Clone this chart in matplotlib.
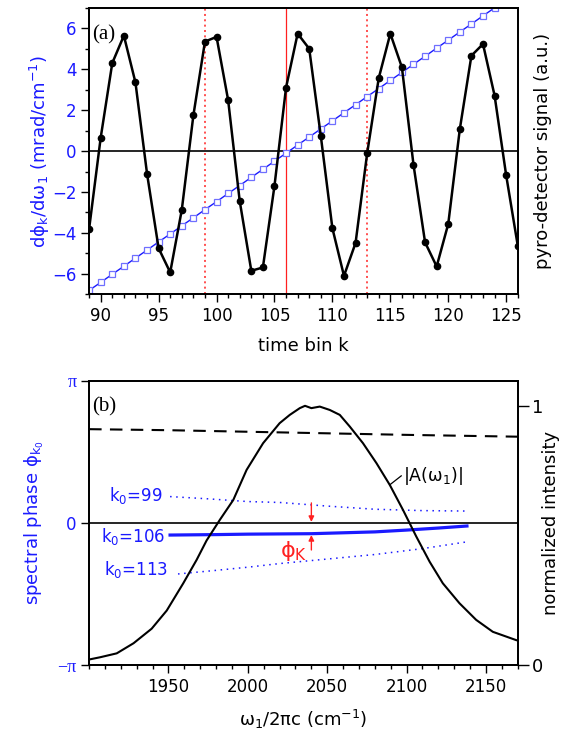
import matplotlib
matplotlib.use("Agg")
import matplotlib.pyplot as plt
import numpy as np

plt.rcParams['font.family'] = ['DejaVu Sans']
plt.rcParams['mathtext.default'] = 'regular'

BLUE = '#1a1aff'
LBLUE = '#6f6fff'
RED = '#ff2020'

# ---- panel (a) data ----
k_bins = list(range(89, 127))
dphi = [-6.81, -6.42, -6.02, -5.63, -5.23, -4.84, -4.44, -4.05, -3.65, -3.26,
        -2.86, -2.47, -2.07, -1.68, -1.28, -0.89, -0.49, -0.10, 0.30, 0.69,
        1.09, 1.48, 1.88, 2.27, 2.67, 3.06, 3.46, 3.85, 4.25, 4.64,
        5.04, 5.43, 5.83, 6.22, 6.62, 7.01, 7.41, 7.80]
pyro = [-3.8, 0.66, 4.31, 5.65, 3.36, -1.1, -4.75, -5.93, -2.87, 1.75,
        5.36, 5.59, 2.5, -2.44, -5.85, -5.69, -1.70, 3.11, 5.75, 5.01,
        0.74, -3.77, -6.1, -4.49, -0.11, 3.57, 5.75, 4.1, -0.66, -4.46,
        -5.64, -3.56, 1.08, 4.67, 5.24, 2.72, -1.18, -4.62]
k_dotted = [99, 113]
k_solid = 106

# ---- panel (b) data ----
w_amp = [1900.6, 1907, 1917.4, 1928, 1939.4, 1948.9, 1959.3, 1967.7, 1974, 1982.4,
         1990.8, 1999.2, 2009.6, 2020, 2026.4, 2032.7, 2036, 2040, 2045.3, 2051.6,
         2057.9, 2064.2, 2072.5, 2081, 2089.4, 2097.7, 2106.1, 2114.5, 2122.8,
         2133.3, 2143.8, 2154.3, 2169]
amp = [0.022, 0.03, 0.045, 0.084, 0.14, 0.21, 0.315, 0.405, 0.48, 0.56,
       0.636, 0.752, 0.855, 0.932, 0.964, 0.99, 0.999, 0.99, 0.996, 0.983,
       0.964, 0.919, 0.855, 0.778, 0.694, 0.598, 0.495, 0.398, 0.315,
       0.238, 0.174, 0.128, 0.096]
w_dash = [1900, 1950, 2000, 2050, 2100, 2170]
dash_int = [0.909, 0.905, 0.899, 0.893, 0.887, 0.88]

w_106 = [1951, 1980, 2000, 2040, 2080, 2100, 2120, 2138]
ph_106 = [-0.27, -0.26, -0.25, -0.24, -0.2, -0.16, -0.115, -0.07]
w_99 = [1951, 1975, 2000, 2020, 2050, 2080, 2110, 2138]
ph_99 = [0.58, 0.53, 0.47, 0.45, 0.37, 0.3, 0.27, 0.26]
w_113 = [1956, 1980, 2000, 2020, 2050, 2080, 2110, 2138]
ph_113 = [-1.13, -1.05, -0.98, -0.9, -0.8, -0.7, -0.57, -0.42]

fig = plt.figure(figsize=(5.64, 7.32), dpi=100)

def style_ticks(ax):
    ax.tick_params(which='major', direction='out', length=5.5, width=1.0)
    ax.tick_params(which='minor', direction='out', length=3.2, width=1.0)
    for s in ax.spines.values():
        s.set_linewidth(1.3)

# ---------------- panel (a) ----------------
ax1 = fig.add_axes([0.158, 0.598, 0.76, 0.391])
ax1.set_xlim(89, 126)
ax1.set_ylim(-7, 7)
ax1.axhline(0, color='black', lw=1.2, zorder=1)
for kd in k_dotted:
    ax1.axvline(kd, color=RED, lw=1.1, ls=(0, (1.3, 2.2)), zorder=1)
ax1.axvline(k_solid, color=RED, lw=0.9, zorder=1)
ax1.plot(k_bins, dphi, color=BLUE, lw=1.0, marker='s', ms=4.5,
         mfc='white', mec=LBLUE, mew=0.9, zorder=2)
ax1.plot(k_bins, pyro, color='black', lw=1.8, marker='o', ms=4.5, zorder=3)
ax1.set_xticks(range(90, 126, 5))
ax1.set_xticks(range(89, 127), minor=True)
ax1.set_yticks(range(-6, 7, 2))
ax1.set_yticks(range(-7, 8, 2), minor=True)
style_ticks(ax1)
ax1.tick_params(axis='both', labelsize=12)
ax1.tick_params(axis='y', labelcolor=BLUE)
ax1.set_xlabel('time bin k', fontsize=13, labelpad=9)
ax1.set_ylabel(r'd$\phi_k$/d$\omega_1$ (mrad/cm$^{-1}$)', color=BLUE,
               fontsize=13, labelpad=0)
ax1.text(0.006, 0.905, '(a)', transform=ax1.transAxes, fontsize=15,
         family='Liberation Serif', va='center', ha='left', zorder=5,
         bbox=dict(facecolor='white', edgecolor='none', pad=0.5))
ax1r = ax1.twinx()
ax1r.set_ylim(-7, 7)
ax1r.set_yticks([])
ax1r.set_ylabel('pyro-detector signal (a.u.)', fontsize=13, labelpad=12)
for s in ax1r.spines.values():
    s.set_linewidth(1.3)

# ---------------- panel (b) ----------------
ax2 = fig.add_axes([0.158, 0.0915, 0.76, 0.3885])
ax2.set_xlim(1900, 2170)
ax2.set_ylim(-np.pi, np.pi)
ax2.axhline(0, color='black', lw=1.2, zorder=1)
ax2.plot(w_106, ph_106, color=BLUE, lw=2.3, zorder=3)
ax2.plot(w_99, ph_99, color=BLUE, lw=1.1, ls=(0, (1, 3)), zorder=3)
ax2.plot(w_113, ph_113, color=BLUE, lw=1.1, ls=(0, (1, 3)), zorder=3)
ax2.set_xticks(range(1950, 2151, 50))
ax2.set_xticks(range(1900, 2171, 10), minor=True)
ax2.set_yticks([-np.pi, 0, np.pi])
ax2.set_yticklabels(['\u2212\u03c0', '0', '\u03c0'])
style_ticks(ax2)
ax2.tick_params(axis='both', labelsize=12)
ax2.tick_params(axis='y', labelcolor=BLUE)
for lab in ax2.get_yticklabels():
    if lab.get_text() != '0':
        lab.set_family('Liberation Serif')
        lab.set_fontsize(13)
ax2.set_xlabel(r'$\omega_1/2\pi$c (cm$^{-1}$)', fontsize=13, labelpad=9,
               math_fontfamily='stix')
ax2.set_ylabel(r'spectral phase $\phi_{k_0}$', color=BLUE, fontsize=13,
               labelpad=8)

ax2.text(1946, 0.61, r'k$_0$=99', color=BLUE, fontsize=12, ha='right', va='center')
ax2.text(1948, -0.31, r'k$_0$=106', color=BLUE, fontsize=12, ha='right', va='center')
ax2.text(1950, -1.04, r'k$_0$=113', color=BLUE, fontsize=12, ha='right', va='center')

ax2.annotate('', xy=(2040, 0.02), xytext=(2040, 0.44),
             arrowprops=dict(arrowstyle='-|>', color=RED, lw=1.0,
                             mutation_scale=8, shrinkA=0, shrinkB=0))
ax2.annotate('', xy=(2040, -0.27), xytext=(2040, -0.6),
             arrowprops=dict(arrowstyle='-|>', color=RED, lw=1.0,
                             mutation_scale=8, shrinkA=0, shrinkB=0))
ax2.text(2029, -0.62, r'$\phi_K$', color=RED, fontsize=16, ha='center', va='center')
ax2.text(0.006, 0.909, '(b)', transform=ax2.transAxes, fontsize=15,
         family='Liberation Serif', va='center', ha='left')

ax2r = ax2.twinx()
ax2r.set_ylim(0, 1.096)
ax2r.plot(w_amp, amp, color='black', lw=1.5, zorder=2)
ax2r.plot(w_dash, dash_int, color='black', lw=1.5, ls=(0, (6, 4)), zorder=2)
ax2r.set_yticks([0, 1])
style_ticks(ax2r)
ax2r.tick_params(axis='y', labelsize=13, length=8, pad=2)
ax2r.set_ylabel('normalized intensity', fontsize=13, labelpad=-1)
ax2r.plot([2089.3, 2096.6], [0.694, 0.729], color='black', lw=0.9)
ax2r.text(2097.5, 0.727, r'|A($\omega_1$)|', fontsize=12.5, ha='left',
          va='center', math_fontfamily='stix')

fig.savefig('out.png', dpi=100)
